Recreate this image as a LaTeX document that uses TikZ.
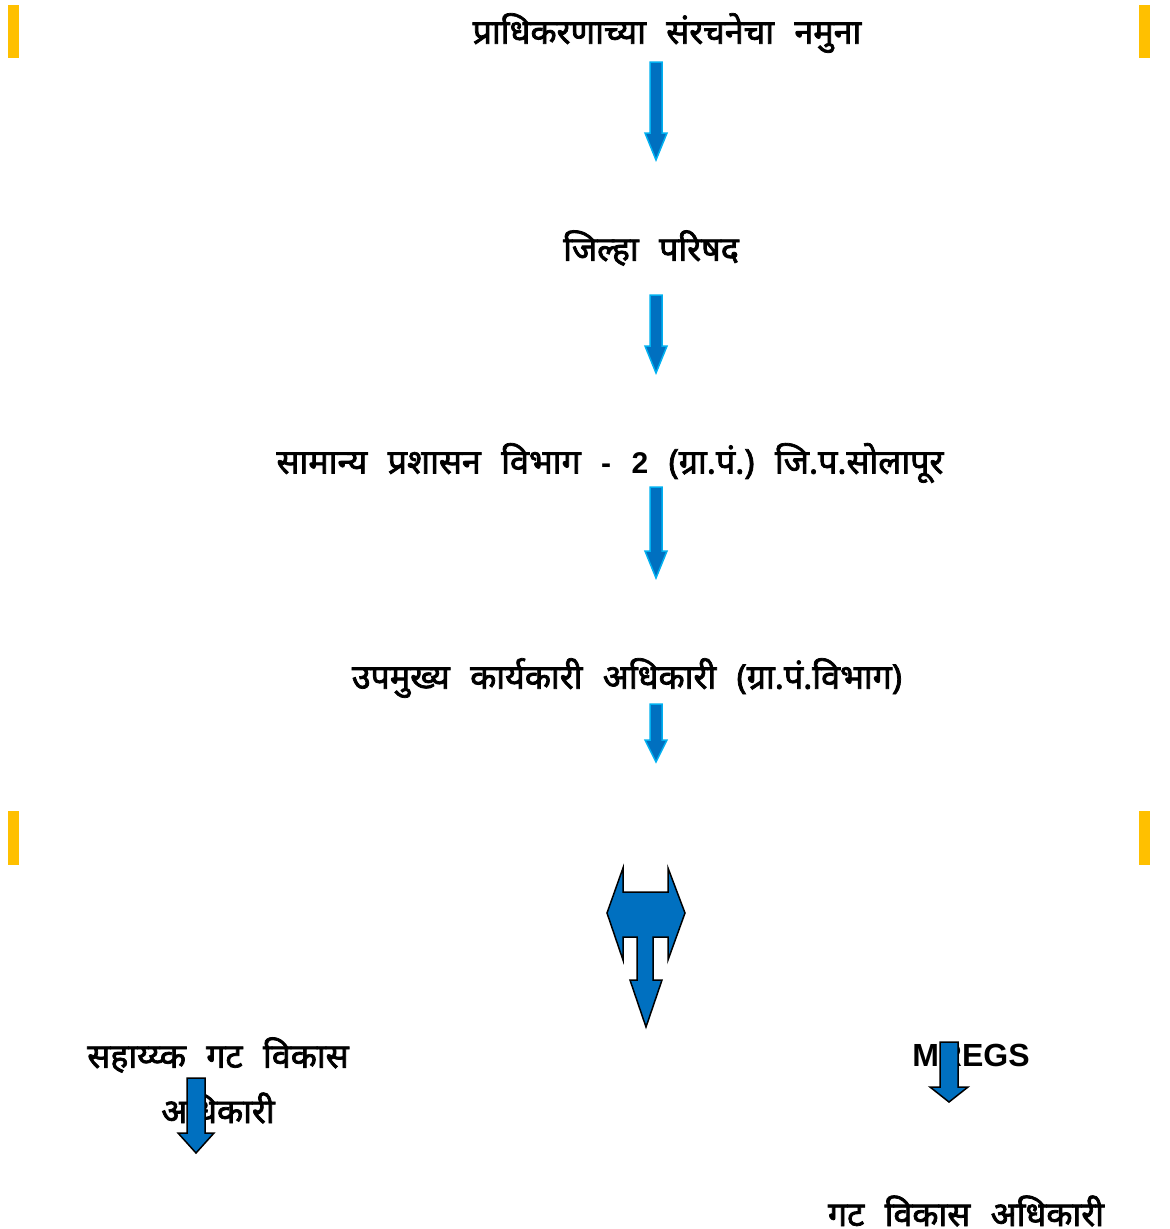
\documentclass[tikz,border=0pt]{standalone}
\usepackage{fontspec}
\newfontfamily\deva[Script=Devanagari, FakeBold=2.2]{Noto Sans}
\newfontfamily\latn{Liberation Sans}
\definecolor{barorange}{HTML}{FFC000}
\definecolor{arrblue}{HTML}{0070C0}
\definecolor{arredge}{HTML}{00B0F0}
\newcommand\dnarrow[7]{% x, ytop, ybot(tip), halfshaft, halfhead, headlen, style
  \draw[#7] (#1-#4,#2) -- (#1+#4,#2) -- (#1+#4,#3-#6) -- (#1+#5,#3-#6) -- (#1,#3)
    -- (#1-#5,#3-#6) -- (#1-#4,#3-#6) -- cycle;}
\newcommand\ws{\hspace{0.6em}}
\begin{document}
\begin{tikzpicture}[x=1pt,y=-1pt,
  lbl/.style={inner sep=0pt, font=\deva\fontsize{34}{39}\selectfont, text=black},
  lat/.style={inner sep=0pt, font=\latn\bfseries\fontsize{32}{38}\selectfont, text=black},
  bar/.style={fill=barorange, draw=none},
  thinarr/.style={fill=arrblue, draw=arredge, line width=1.5pt, line join=miter},
  bigarr/.style={fill=arrblue, draw=black, line width=1.5pt, line join=miter}]
\useasboundingbox (0,0) rectangle (1170,1229);
% orange bars
\fill[bar] (8,5) rectangle (19,58);
\fill[bar] (1139,5) rectangle (1150,58);
\fill[bar] (8,811) rectangle (19,865);
\fill[bar] (1139,811) rectangle (1150,865);
% texts
\node[lbl] (t1) at (667,33) {प्राधिकरणाच्या\ws संरचनेचा\ws नमुना};
\node[lbl] (t2) at (651,248) {जिल्हा\ws परिषद};
\node[lbl] (t3) at (610,463) {सामान्य\ws प्रशासन\ws विभाग\ws {\latn\bfseries\fontsize{30}{36}\selectfont -}\ws {\latn\bfseries\fontsize{30}{36}\selectfont 2}\ws (ग्रा.पं.)\ws जि.प.सोलापूर};
\node[lbl] (t4) at (627,678) {उपमुख्य\ws कार्यकारी\ws अधिकारी\ws (ग्रा.पं.विभाग)};
\node[lbl] (t5) at (218,1055) {सहाय्य्क\ws गट\ws विकास};
\node[lbl] (t6) at (218,1108) {अधिकारी};
\node[lat] (t7) at (971,1055) {MREGS};
\node[lbl] (t8) at (966,1211) {गट\ws विकास\ws अधिकारी};
% thin arrows
\dnarrow{656}{62}{160}{6}{11}{27}{thinarr}
\dnarrow{656}{295}{373}{6}{11}{27}{thinarr}
\dnarrow{656}{487}{578}{6}{11}{27}{thinarr}
\dnarrow{656}{704}{762}{6}{11}{22}{thinarr}
% split arrow
\draw[bigarr] (623,868) -- (623,892) -- (668,892) -- (668,868) -- (685,913) -- (668,960)
  -- (668,937) -- (653,937) -- (653,980) -- (662,980) -- (646,1027) -- (630,980)
  -- (637,980) -- (637,937) -- (623,937) -- (623,960) -- (607,913) -- cycle;
% bottom arrows
\dnarrow{196}{1078}{1153}{9}{18}{20}{bigarr}
\dnarrow{949}{1042}{1102}{9}{19}{15}{bigarr}
\end{tikzpicture}
\end{document}
